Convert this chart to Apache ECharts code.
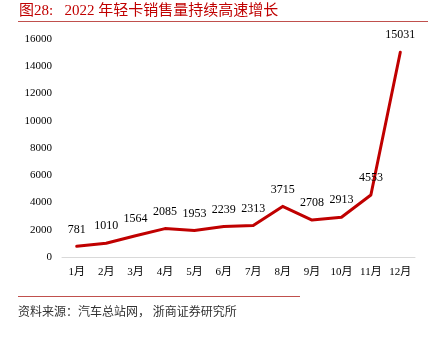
<!DOCTYPE html>
<html><head><meta charset="utf-8">
<script src="https://cdn.jsdelivr.net/npm/echarts@6/dist/echarts.min.js"></script>
<style>html,body{margin:0;padding:0;background:#fff}#c{width:437px;height:341px}</style>
</head><body><div id="c"></div>
<script>
const categories = ['1月','2月','3月','4月','5月','6月','7月','8月','9月','10月','11月','12月'];
const sales = [781,1010,1564,2085,1953,2239,2313,3715,2708,2913,4553,15031];
const yTicks = [0,2000,4000,6000,8000,10000,12000,14000,16000];
const titleText = '图28:   2022 年轻卡销售量持续高速增长';
const sourceText = '资料来源：汽车总站网， 浙商证券研究所';

const serif = '"Liberation Serif","Noto Sans CJK SC",serif';
const chart = echarts.init(document.getElementById('c'));
chart.setOption({
  animation: false,
  grid: {left: 62, right: 22, top: 39, bottom: 84},
  xAxis: {
    type: 'category', data: categories, boundaryGap: true,
    axisLine: {lineStyle: {color: '#d9d9d9', width: 1}},
    axisTick: {show: false},
    axisLabel: {color: '#000', fontFamily: serif, fontSize: 11, margin: 10}
  },
  yAxis: {
    type: 'value', min: yTicks[0], max: yTicks[yTicks.length-1], interval: 2000,
    axisLine: {show: false}, axisTick: {show: false}, splitLine: {show: false},
    axisLabel: {color: '#000', fontFamily: serif, fontSize: 11, margin: 10, formatter: v => String(v)}
  },
  series: [{
    type: 'line', data: sales, symbol: 'circle', symbolSize: 2, showSymbol: true,
    itemStyle: {color: 'rgba(0,0,0,0)', borderWidth: 0},
    lineStyle: {color: '#c00000', width: 3, join: 'round', cap: 'round'},
    label: {show: true, position: 'top', distance: 10, color: '#000', opacity: 1, fontFamily: serif, fontSize: 12},
    labelLayout: {hideOverlap: false}
  }],
  graphic: [
    {type: 'text', left: 19, top: 4, style: {text: titleText, fill: '#c00000', font: '15px "Liberation Serif","Noto Sans CJK SC",serif'}},
    {type: 'line', shape: {x1: 18, y1: 21.5, x2: 428, y2: 21.5}, style: {stroke: '#c0504d', lineWidth: 1}},
    {type: 'line', shape: {x1: 18, y1: 296.5, x2: 300, y2: 296.5}, style: {stroke: '#c0504d', lineWidth: 1}},
    {type: 'text', left: 18, top: 305, style: {text: sourceText, fill: '#333', font: '12px "Noto Sans CJK SC",sans-serif'}}
  ]
});
</script></body></html>
